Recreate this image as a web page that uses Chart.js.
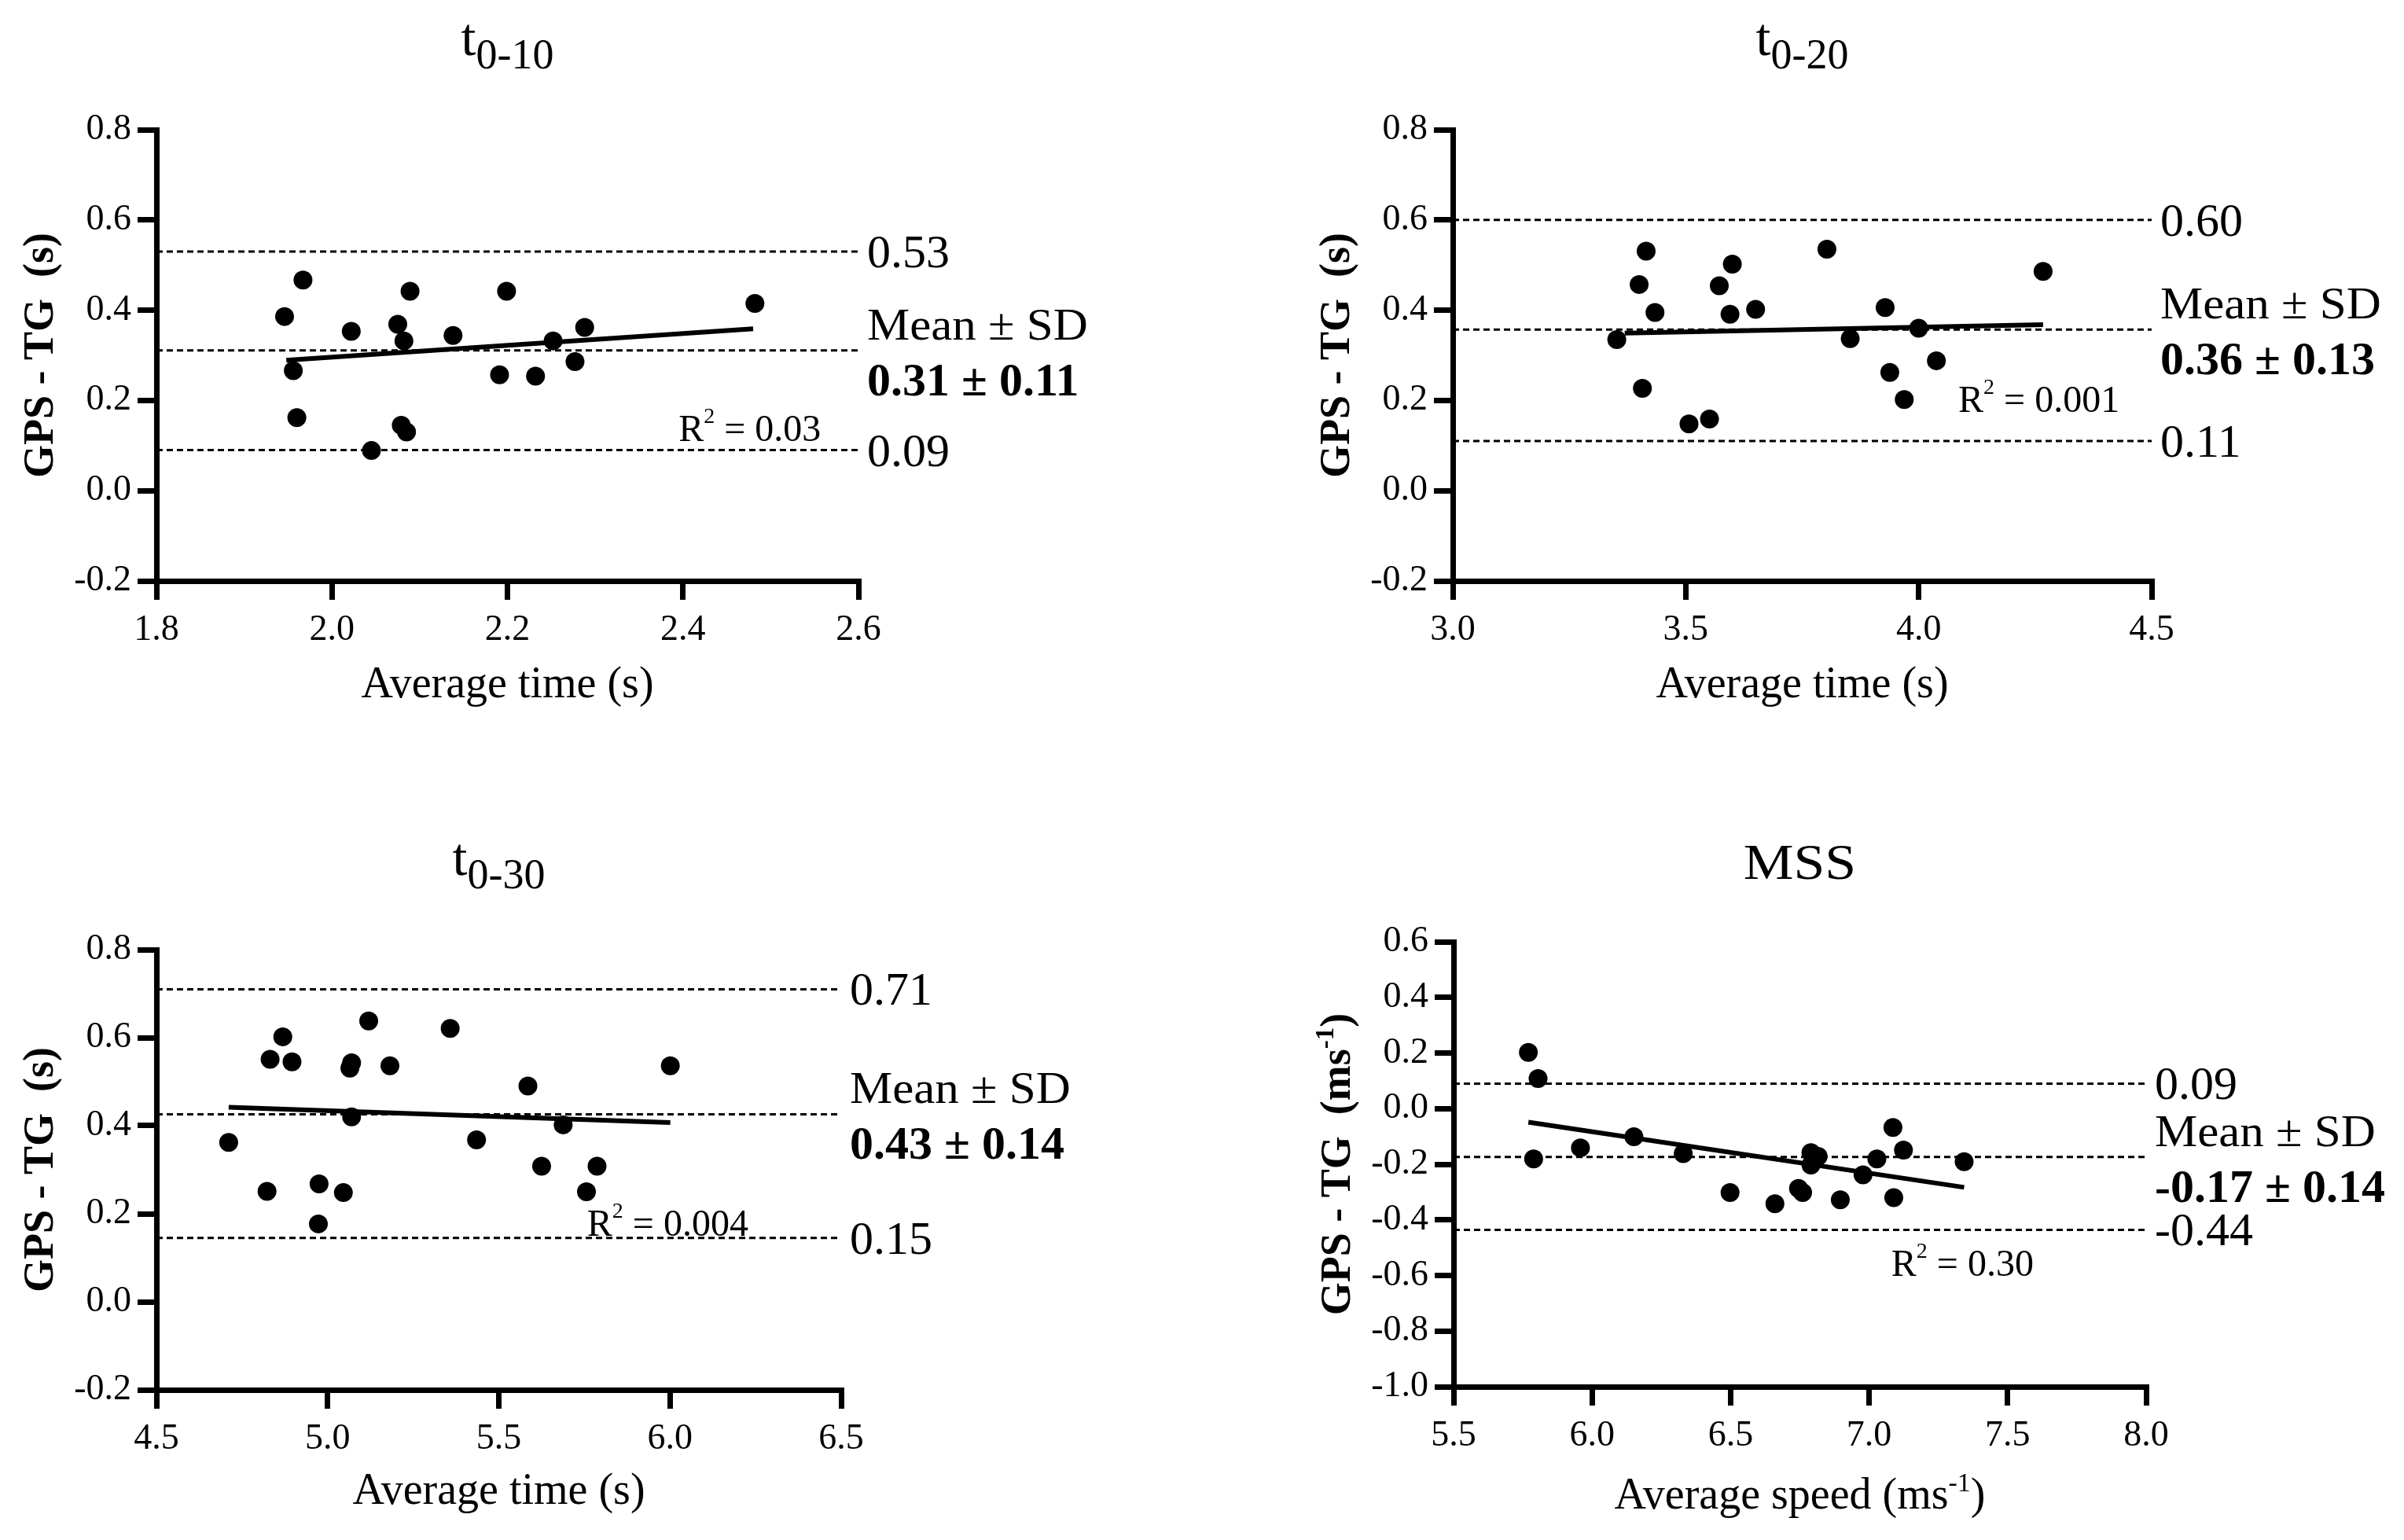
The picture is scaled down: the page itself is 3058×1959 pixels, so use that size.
<!DOCTYPE html>
<html>
<head>
<meta charset="utf-8">
<title>GPS - TG agreement</title>
<script src="https://cdn.jsdelivr.net/npm/chart.js@4.4.1/dist/chart.umd.min.js"></script>
<style>
html, body { margin: 0; padding: 0; background: #fff; overflow: hidden; width: 3058px; height: 1959px; }
canvas { position: absolute; }
</style>
</head>
<body>
<canvas id="c10"></canvas>
<canvas id="c20"></canvas>
<canvas id="c30"></canvas>
<canvas id="cMss"></canvas>
<script>
// values
const t10X = [1.946, 1.967, 1.956, 1.960, 2.022, 2.075, 2.082, 2.089, 2.079, 2.085, 2.045, 2.138, 2.199, 2.191, 2.232, 2.252, 2.277, 2.288, 2.482];
const t10Y = [0.386, 0.467, 0.266, 0.162, 0.353, 0.369, 0.332, 0.442, 0.145, 0.130, 0.089, 0.344, 0.442, 0.257, 0.254, 0.332, 0.286, 0.362, 0.415];
const t10Fit = [[1.948, 0.289], [2.480, 0.359]];
const t10Lines = [0.53, 0.311, 0.09];
const t10Labels = ['0.53', '0.31 ± 0.11', '0.09'];
const t10R2 = '0.03';
const t10XTicks = [1.8, 2.0, 2.2, 2.4, 2.6];

const t20X = [3.352, 3.400, 3.415, 3.434, 3.407, 3.507, 3.551, 3.572, 3.600, 3.595, 3.650, 3.803, 3.853, 3.928, 3.938, 3.969, 4.000, 4.038, 4.267];
const t20Y = [0.335, 0.457, 0.531, 0.395, 0.227, 0.148, 0.159, 0.454, 0.502, 0.391, 0.402, 0.535, 0.337, 0.406, 0.262, 0.202, 0.360, 0.288, 0.486];
const t20Fit = [[3.369, 0.349], [4.267, 0.368]];
const t20Lines = [0.60, 0.357, 0.11];
const t20Labels = ['0.60', '0.36 ± 0.13', '0.11'];
const t20R2 = '0.001';
const t20XTicks = [3.0, 3.5, 4.0, 4.5];

const t30X = [4.711, 4.832, 4.869, 4.896, 4.823, 4.975, 4.973, 5.046, 5.065, 5.070, 5.070, 5.120, 5.182, 5.358, 5.435, 5.585, 5.625, 5.688, 5.756, 5.787, 6.001];
const t30Y = [0.362, 0.551, 0.602, 0.545, 0.251, 0.268, 0.177, 0.248, 0.531, 0.543, 0.420, 0.638, 0.536, 0.621, 0.368, 0.490, 0.308, 0.402, 0.250, 0.308, 0.536];
const t30Fit = [[4.711, 0.442], [6.001, 0.407]];
const t30Lines = [0.71, 0.426, 0.145];
const t30Labels = ['0.71', '0.43 ± 0.14', '0.15'];
const t30R2 = '0.004';
const t30XTicks = [4.5, 5.0, 5.5, 6.0, 6.5];

const mssX = [5.770, 5.805, 5.789, 5.958, 6.151, 6.329, 6.498, 6.660, 6.745, 6.760, 6.790, 6.790, 6.816, 6.896, 6.978, 7.028, 7.086, 7.089, 7.124, 7.343];
const mssY = [0.202, 0.108, -0.181, -0.141, -0.101, -0.162, -0.302, -0.342, -0.287, -0.302, -0.158, -0.203, -0.172, -0.328, -0.238, -0.181, -0.068, -0.320, -0.149, -0.191];
const mssFit = [[5.770, -0.049], [7.343, -0.283]];
const mssLines = [0.09, -0.174, -0.436];
const mssLabels = ['0.09', '-0.17 ± 0.14', '-0.44'];
const mssR2 = '0.30';
const mssXTicks = [5.5, 6.0, 6.5, 7.0, 7.5, 8.0];

const timeYTicks = [-0.2, 0.0, 0.2, 0.4, 0.6, 0.8];
const mssYTicks = [-1.0, -0.8, -0.6, -0.4, -0.2, 0.0, 0.2, 0.4, 0.6];

const SERIF = '"Liberation Serif", "Times New Roman", serif';
const f = (size, bold) => (bold ? 'bold ' : '') + size + 'px ' + SERIF;

// draws a run of text pieces (for sub/superscripts), optionally stretched sideways
function drawParts(ctx, parts, x, y, align, sx) {
  sx = sx || 1;
  let w = 0;
  parts.forEach(p => { ctx.font = p.font; w += ctx.measureText(p.t).width; });
  let cx = align === 'center' ? x - w * sx / 2 : x;
  ctx.textAlign = 'left';
  ctx.textBaseline = 'alphabetic';
  ctx.fillStyle = '#000';
  parts.forEach(p => {
    ctx.font = p.font;
    const pw = ctx.measureText(p.t).width;
    ctx.save();
    ctx.translate(cx, y + (p.dy || 0));
    ctx.scale(sx, 1);
    ctx.fillText(p.t, 0, 0);
    ctx.restore();
    cx += pw * sx;
  });
}

function drawPanel(chart, p) {
  const ctx = chart.ctx, a = chart.chartArea, xs = chart.scales.x, ys = chart.scales.y;
  ctx.save();
  drawParts(ctx, p.title, (a.left + a.right) / 2, a.top - p.titleDy, 'center', p.titleSx);
  drawParts(ctx, p.xTitle, (a.left + a.right) / 2, a.bottom + p.xTitleDy, 'center');
  ctx.save();
  ctx.translate(a.left - 150, (a.top + a.bottom) / 2);
  ctx.rotate(-Math.PI / 2);
  drawParts(ctx, p.yTitle, 0, 18, 'center');
  ctx.restore();

  const lx = a.right + 11;
  drawParts(ctx, [{ t: p.labels[0], font: f(60) }], lx, ys.getPixelForValue(p.lines[0]) + 20, 'left');
  drawParts(ctx, [{ t: 'Mean ± SD', font: f(57) }], lx, ys.getPixelForValue(p.lines[1]) - 14, 'left', 1.07);
  drawParts(ctx, [{ t: p.labels[1], font: f(60, true) }], lx, ys.getPixelForValue(p.lines[1]) + 57, 'left');
  drawParts(ctx, [{ t: p.labels[2], font: f(60) }], lx, ys.getPixelForValue(p.lines[2]) + 20, 'left');

  drawParts(ctx, [{ t: 'R', font: f(48) }, { t: '2', font: f(28), dy: -23 }, { t: ' = ' + p.r2, font: f(48) }],
    xs.getPixelForValue(p.r2At[0]), ys.getPixelForValue(p.r2At[1]), 'left');
  ctx.restore();
}

function makeChart(p) {
  const el = document.getElementById(p.id);
  const [L, T, R, B] = p.box;
  const W = (R - L) + 199 + p.padRight, H = (B - T) + 165 + p.bottom;
  el.style.left = (L - 199) + 'px';
  el.style.top = (T - 165) + 'px';
  el.width = W; el.height = H;
  el.style.width = W + 'px'; el.style.height = H + 'px';

  const xMin = p.xTicks[0], xMax = p.xTicks[p.xTicks.length - 1];
  const dashed = p.lines.map(v => ({
    type: 'line', data: [{ x: xMin, y: v }, { x: xMax, y: v }],
    borderColor: '#000', borderWidth: 3, borderDash: [8, 5], pointRadius: 0, fill: false
  }));

  const axisStyle = (ticks, isX) => ({
    type: 'linear',
    min: ticks[0], max: ticks[ticks.length - 1],
    afterBuildTicks: s => { s.ticks = ticks.map(v => ({ value: v })); },
    afterFit: s => { if (isX) s.height = p.bottom; else s.width = 199; },
    ticks: {
      font: { family: SERIF, size: 46 }, color: '#000',
      padding: isX ? 11 : 8, autoSkip: false, maxRotation: 0,
      callback: v => v.toFixed(1)
    },
    grid: { drawOnChartArea: false, tickLength: 24, lineWidth: 7, color: '#000' },
    border: { width: 7, color: '#000' }
  });

  new Chart(el, {
    type: 'scatter',
    data: {
      datasets: [
        { data: p.x.map((v, i) => ({ x: v, y: p.y[i] })), backgroundColor: '#000', borderWidth: 0, pointRadius: 12, pointHoverRadius: 12 },
        { type: 'line', data: p.fit.map(d => ({ x: d[0], y: d[1] })), borderColor: '#000', borderWidth: 6, pointRadius: 0, fill: false },
        ...dashed
      ]
    },
    options: {
      responsive: false, animation: false, devicePixelRatio: 1,
      layout: { padding: { left: 0, top: 165, right: p.padRight, bottom: 0 } },
      plugins: { legend: { display: false }, tooltip: { enabled: false } },
      scales: { x: axisStyle(p.xTicks, true), y: axisStyle(p.yTicks, false) }
    },
    plugins: [{ id: 'panelText', afterDraw: c => drawPanel(c, p) }]
  });
}

const timeXTitle = [{ t: 'Average time (s)', font: f(56) }];
const timeYTitle = [{ t: 'GPS - TG  (s)', font: f(54, true) }];

makeChart({
  id: 'c10', box: [199, 165, 1092, 739], padRight: 400, bottom: 220,
  x: t10X, y: t10Y, fit: t10Fit, lines: t10Lines, labels: t10Labels, r2: t10R2, r2At: [2.395, 0.11],
  xTicks: t10XTicks, yTicks: timeYTicks,
  title: [{ t: 't', font: f(68) }, { t: '0-10', font: f(54), dy: 17 }], titleDy: 95,
  xTitle: timeXTitle, xTitleDy: 148, yTitle: timeYTitle
});
makeChart({
  id: 'c20', box: [1848, 165, 2737, 739], padRight: 321, bottom: 220,
  x: t20X, y: t20Y, fit: t20Fit, lines: t20Lines, labels: t20Labels, r2: t20R2, r2At: [4.085, 0.175],
  xTicks: t20XTicks, yTicks: timeYTicks,
  title: [{ t: 't', font: f(68) }, { t: '0-20', font: f(54), dy: 17 }], titleDy: 95,
  xTitle: timeXTitle, xTitleDy: 148, yTitle: timeYTitle
});
makeChart({
  id: 'c30', box: [199, 1208, 1070, 1768], padRight: 400, bottom: 190,
  x: t30X, y: t30Y, fit: t30Fit, lines: t30Lines, labels: t30Labels, r2: t30R2, r2At: [5.758, 0.15],
  xTicks: t30XTicks, yTicks: timeYTicks,
  title: [{ t: 't', font: f(68) }, { t: '0-30', font: f(54), dy: 17 }], titleDy: 95,
  xTitle: timeXTitle, xTitleDy: 145, yTitle: timeYTitle
});
makeChart({
  id: 'cMss', box: [1849, 1198, 2730, 1764], padRight: 328, bottom: 190,
  x: mssX, y: mssY, fit: mssFit, lines: mssLines, labels: mssLabels, r2: mssR2, r2At: [7.08, -0.6],
  xTicks: mssXTicks, yTicks: mssYTicks,
  title: [{ t: 'MSS', font: f(64) }], titleDy: 80, titleSx: 1.12,
  xTitle: [{ t: 'Average speed (ms', font: f(56) }, { t: '-1', font: f(34), dy: -22 }, { t: ')', font: f(56) }], xTitleDy: 155,
  yTitle: [{ t: 'GPS - TG  (ms', font: f(54, true) }, { t: '-1', font: f(33, true), dy: -21 }, { t: ')', font: f(54, true) }]
});
</script>
</body>
</html>
